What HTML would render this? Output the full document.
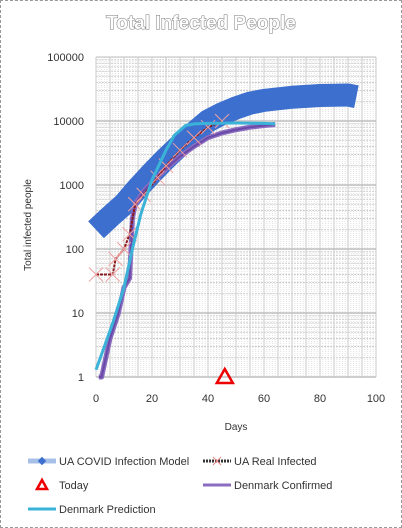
<!DOCTYPE html>
<html><head><meta charset="utf-8"><style>
body{margin:0;width:402px;height:528px;overflow:hidden;background:#fff;font-family:"Liberation Sans",sans-serif}
#frame{position:absolute;left:0;top:0;width:400px;height:526px;border:1px dashed #999}
</style></head><body>
<div id="frame"></div>
<svg id="c" width="402" height="528" style="position:absolute;left:0;top:0"></svg>
<script>
const modelDays=[0,5,10,15,20,25,30,35,40,45,50,55,60,70,80,90,93];
const modelVals=[200,320,500,900,1550,2600,4200,6500,10000,13000,16000,19000,21000,23500,25000,25500,24000];
const realDays=[0,6,7,10,12,14,17,22,25,30,35,40,45];
const realVals=[40,40,70,100,170,500,700,1300,2000,3500,5500,8000,10000];
const dkDays=[1,2,5,8,10,12,13,14,17,20,25,30,35,40,45,50,55,60,64];
const dkVals=[1,1,4,10,25,35,300,500,800,1100,1800,2800,4000,5500,6500,7300,8000,8500,8800];
const predDays=[0,3,6,10,13,16,20,25,28,32,35,40,50,60,64];
const predVals=[1.3,3,7,25,100,350,1200,3500,6000,8500,9000,9200,9300,9200,9000];
const todayDay=[46];const todayVal=[1];
const xTicks=[0,20,40,60,80,100];
const yTicks=[1,10,100,1000,10000,100000];
const yTickLabels=["1","10","100","1000","10000","100000"];

const NS="http://www.w3.org/2000/svg";
const svg=document.getElementById('c');
const X0=96,X1=376,Y0=377,DEC=64;
const xs=d=>X0+(X1-X0)*d/100;
const ys=v=>Y0-DEC*Math.log10(v);
function el(t,a,p){const e=document.createElementNS(NS,t);for(const k in a)e.setAttribute(k,a[k]);(p||svg).appendChild(e);return e;}
function txt(x,y,s,a,p){const e=el('text',Object.assign({x:x,y:y},a),p);e.textContent=s;return e;}

const t=txt(201,29,"Total Infected People",{"text-anchor":"middle","font-size":"19","font-weight":"bold",fill:"#fff",stroke:"#777","stroke-width":"1","paint-order":"stroke"});



const g=el('g',{});


for(let d=0;d<=100;d++){el('line',{x1:xs(d),x2:xs(d),y1:ys(100000),y2:Y0,stroke:d%5==0?"#c8c8c8":"#e2e2e2","stroke-width":1,"stroke-dasharray":d%5==0?"none":"1,1"},g);}
for(let e=0;e<5;e++)for(let m=1;m<10;m++){const v=Math.pow(10,e)*m;const y=ys(v);
el('line',{x1:X0,x2:X1,y1:y,y2:y,stroke:m==1?"#bdbdbd":"#cfcfcf","stroke-width":m==1?1.5:1,"stroke-dasharray":m==1?"none":"2,1"},g);}
el('line',{x1:X0,x2:X1,y1:ys(100000),y2:ys(100000),stroke:"#bdbdbd"},g);

yTicks.forEach((v,i)=>{const e=txt(84,ys(v)+4,yTickLabels[i],{"text-anchor":"end","font-size":"11",fill:"#333"});

});
xTicks.forEach(d=>{const e=txt(xs(d),402,String(d),{"text-anchor":"middle","font-size":"11",fill:"#333"});

});
const xt=txt(236,430,"Days",{"text-anchor":"middle","font-size":"10",fill:"#333"});


const yt=txt(0,0,"Total infected people",{"text-anchor":"middle","font-size":"10",fill:"#333",transform:"translate(31,225) rotate(-90)"});



function pts(ds,vs){return ds.map((d,i)=>xs(d)+","+ys(vs[i])).join(" ");}
const m=el('polyline',{points:pts(modelDays,modelVals),fill:"none",stroke:"#3d6fcf","stroke-width":23,"stroke-linejoin":"round"});


const dk=el('polyline',{points:pts(dkDays,dkVals),fill:"none",stroke:"#8a6cc0","stroke-width":5,"stroke-linejoin":"round"});


el('polyline',{points:pts(dkDays,dkVals),fill:"none",stroke:"#6a4aa8","stroke-width":2});
const r=el('polyline',{points:pts(realDays,realVals),fill:"none",stroke:"#8b1a1a","stroke-width":2,"stroke-dasharray":"3,1"});


realDays.forEach((d,i)=>{const x=xs(d),y=ys(realVals[i]);const k=el('path',{d:`M${x-7},${y-7}L${x+7},${y+7}M${x-7},${y+7}L${x+7},${y-7}`,stroke:"#f0a0a0","stroke-width":1});

});
const p=el('polyline',{points:pts(predDays,predVals),fill:"none",stroke:"#3bb3d8","stroke-width":3,"stroke-linejoin":"round"});


const tx=xs(todayDay[0]),ty=ys(todayVal[0]);
const tr=el('polygon',{points:`${tx},${ty-8} ${tx+8},${ty+6} ${tx-8},${ty+6}`,fill:"none",stroke:"#e00","stroke-width":"2.5"});



function leg(x,y,label,kind,name){const gg=el('g',{});


if(kind=='model'){el('line',{x1:x,x2:x+28,y1:y,y2:y,stroke:"#a8c0e8","stroke-width":5},gg);el('rect',{x:x+11,y:y-3,width:6,height:6,fill:"#3d6fcf",transform:`rotate(45 ${x+14} ${y})`},gg);}
if(kind=='real'){el('line',{x1:x,x2:x+28,y1:y,y2:y,stroke:"#333","stroke-width":3,"stroke-dasharray":"2,1"},gg);el('path',{d:`M${x+10},${y-4}L${x+18},${y+4}M${x+10},${y+4}L${x+18},${y-4}`,stroke:"#e88"},gg);}
if(kind=='today'){el('polygon',{points:`${x+14},${y-5} ${x+19},${y+4} ${x+9},${y+4}`,fill:"none",stroke:"#e00","stroke-width":2.5},gg);}
if(kind=='dk'){el('line',{x1:x,x2:x+28,y1:y,y2:y,stroke:"#8a6cc0","stroke-width":3},gg);}
if(kind=='pred'){el('line',{x1:x,x2:x+28,y1:y,y2:y,stroke:"#3bb3d8","stroke-width":3},gg);}
txt(x+31,y+4,label,{"font-size":"11",fill:"#333"},gg);}
leg(28,461,"UA COVID Infection Model","model","legend-ua-model");
leg(203,461,"UA Real Infected","real","legend-ua-real");
leg(28,485,"Today","today","legend-today");
leg(203,485,"Denmark Confirmed","dk","legend-denmark-confirmed");
leg(28,509,"Denmark Prediction","pred","legend-denmark-prediction");
</script>
</body></html>
